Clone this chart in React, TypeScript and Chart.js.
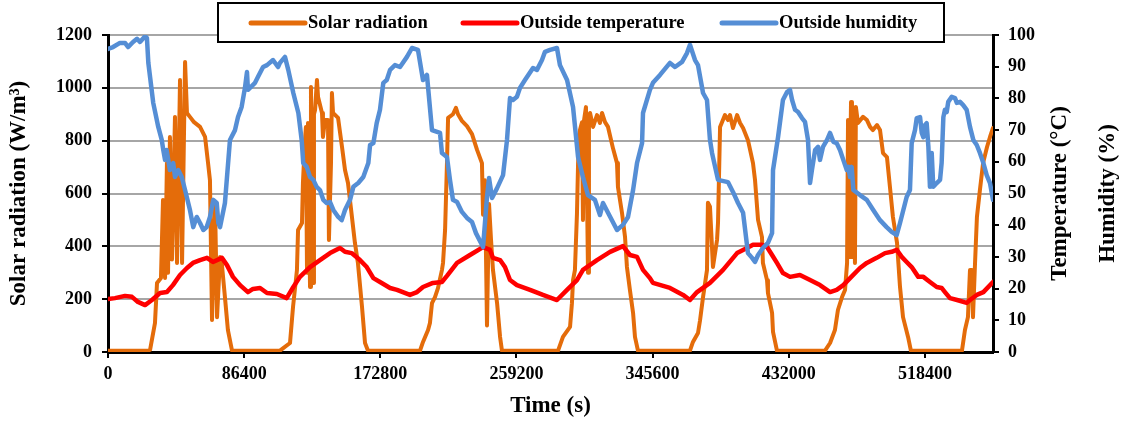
import React, { useEffect, useRef } from 'react';
import { Chart, registerables } from 'chart.js';

Chart.register(...registerables);

const FONT = "'Liberation Serif', 'Times New Roman', Times, serif";

// ---- data: [time (s), value] ----
const solarPoints: [number, number][] = [
  [0, 5], [24700, 5], [26700, 8], [29800, 109], [31100, 261], [33600, 280], [34900, 575], [36200, 280],
  [37400, 715], [38100, 300], [39300, 814], [40600, 350], [42500, 890], [43800, 337], [45700, 1030],
  [47000, 337], [48900, 1098], [50100, 905], [52000, 890], [54600, 870], [58400, 852], [61600, 814],
  [63500, 715], [64700, 650], [66000, 121], [67900, 568], [69200, 132], [71100, 360], [72300, 330],
  [74200, 208], [76100, 83], [78700, 5],
  [109100, 5], [115500, 34], [117400, 170], [119900, 310], [120600, 462], [123100, 488], [123700, 640],
  [125000, 802], [125600, 852], [126300, 300], [126900, 867], [128200, 246], [128800, 1003], [130100, 261],
  [130700, 900], [131400, 916], [132600, 1030], [133300, 965], [135800, 905], [136400, 814], [137700, 878],
  [139600, 878], [140200, 424], [141500, 715], [142100, 980], [142800, 905], [146000, 886], [148500, 776],
  [150400, 689], [152300, 640], [154800, 511], [156700, 413], [158600, 337], [161200, 170], [163100, 34],
  [165000, 5],
  [198000, 5], [199900, 38], [203100, 83], [204300, 110], [205600, 185], [207500, 208], [209400, 242],
  [211900, 310], [212600, 337], [213900, 462], [215100, 715], [215800, 886], [218900, 900], [220800, 924],
  [222100, 900], [224600, 875], [227800, 855], [231000, 825], [234200, 765], [237300, 715], [238000, 520],
  [239200, 650], [240500, 100], [241800, 560], [243000, 430], [244300, 310], [246900, 185], [248800, 57],
  [250000, 5],
  [285600, 5], [288700, 57], [293200, 95], [294400, 185], [295100, 272], [296300, 310], [297600, 525],
  [298300, 715], [299500, 840], [300800, 870], [301400, 500], [302100, 878], [303300, 927], [304600, 300],
  [305200, 880], [305900, 905], [307800, 852], [310300, 897], [312200, 867], [313500, 905], [315400, 870],
  [317300, 852], [320500, 770], [323000, 715], [323600, 625], [326200, 525], [328100, 435], [329300, 322],
  [331200, 235], [333200, 148], [334400, 57], [336300, 5],
  [369300, 5], [371200, 38], [374400, 72], [375700, 120], [377600, 208], [380100, 310], [380700, 565],
  [382000, 550], [383900, 322], [386500, 425], [387100, 490], [388400, 852], [391500, 897], [393400, 878],
  [394700, 897], [396600, 848], [399200, 897], [401100, 867], [403000, 848], [406100, 802], [409300, 715],
  [410600, 650], [412500, 500], [415000, 435], [415600, 337], [418200, 272], [418800, 223], [421400, 148],
  [422000, 76], [424500, 5],
  [455000, 5], [458200, 34], [461300, 83], [463200, 159], [465800, 208], [467700, 235], [469000, 337],
  [469600, 878], [470200, 360], [471500, 946], [472100, 360], [472800, 927], [474000, 337], [474600, 927],
  [475900, 867], [479100, 890], [481600, 878], [483600, 852], [485400, 840], [488000, 859], [489900, 840],
  [491800, 753], [494300, 738], [496200, 625], [498100, 511], [500700, 413], [502600, 246], [504500, 132],
  [507700, 57], [509500, 5],
  [541900, 5], [543800, 83], [545700, 132], [547000, 310], [548300, 310], [548900, 132], [550200, 337],
  [551400, 511], [553300, 613], [555300, 715], [557800, 776], [559700, 814], [561600, 848],
];

const temperaturePoints: [number, number][] = [
  [0, 16.7], [4400, 17.0], [10800, 17.7], [15200, 17.4], [19000, 15.8], [23500, 14.8], [27900, 16.4],
  [33000, 18.6], [37400, 18.9], [41200, 21.1], [45700, 24.3], [50100, 26.5], [53900, 28.1], [58400, 29.0],
  [62800, 29.7], [66600, 28.4], [72300, 29.7], [75500, 27.4], [79300, 23.7], [83800, 21.1], [88800, 18.9],
  [92000, 19.9], [96500, 20.2], [100900, 18.6], [107200, 18.3], [113400, 17.0], [117600, 20.5],
  [121800, 23.7], [128200, 26.8], [134500, 29.0], [140900, 31.2], [147200, 32.8], [150400, 31.6],
  [154600, 31.2], [159900, 29.0], [164200, 26.8], [168400, 23.3], [172600, 22.1], [179000, 20.2],
  [183400, 19.6], [191600, 18.0], [196100, 18.9], [199900, 20.5], [206200, 21.8], [211900, 22.1],
  [215100, 24.0], [221500, 28.1], [229700, 30.6], [238000, 33.1], [242400, 32.2], [244300, 29.7],
  [248800, 29.0], [251900, 26.8], [255100, 22.7], [259500, 21.1], [267800, 19.6], [276000, 18.0],
  [284900, 16.4], [291300, 19.6], [297600, 22.7], [301400, 25.9], [310300, 29.0], [318600, 31.6],
  [326800, 33.4], [331200, 30.6], [335700, 30.0], [339500, 25.9], [343900, 23.3], [345800, 21.8],
  [356600, 20.2], [364900, 18.0], [369300, 16.4], [373800, 18.9], [382000, 21.8], [390300, 25.9],
  [399200, 31.2], [405500, 32.8], [409300, 33.8], [415000, 33.8], [418200, 33.1], [421400, 30.6],
  [424500, 28.1], [428300, 24.9], [432800, 23.7], [439100, 24.3], [445500, 22.7], [451800, 21.1],
  [458200, 18.9], [462400, 19.6], [466600, 21.1], [470900, 23.3], [477200, 26.5], [481500, 28.1],
  [487800, 29.7], [493100, 31.2], [497300, 31.6], [500500, 32.2], [503700, 30.0], [506800, 28.4],
  [510000, 26.8], [514200, 23.7], [517400, 23.7], [521600, 22.1], [525900, 20.5], [529000, 20.2],
  [531100, 18.9], [534300, 17.0], [538800, 16.4], [544900, 15.5], [547000, 16.4], [551300, 18.0],
  [555500, 18.9], [561600, 22.1],
];

const humidityPoints: [number, number][] = [
  [0, 95.6], [3200, 96.2], [7600, 97.5], [10800, 97.5], [12700, 96.2], [15900, 97.8], [18400, 98.8],
  [20300, 97.8], [23500, 99.6], [24700, 99.1], [25600, 91.2], [28700, 78.6], [31900, 71.0], [34100, 66.9],
  [35100, 63.7], [36200, 60.6], [37200, 63.7], [39300, 57.4], [41400, 59.6], [42500, 55.2], [44600, 57.4],
  [46800, 55.2], [48900, 51.1], [52000, 44.8], [54100, 39.4], [56300, 42.6], [58400, 40.7], [60500, 38.5],
  [62600, 39.4], [64700, 42.6], [66800, 48.0], [69000, 47.0], [70000, 40.7], [71100, 39.4], [74200, 47.0],
  [77400, 66.9], [80600, 70.0], [82500, 74.1], [84800, 77.3], [86900, 83.3], [88200, 88.3], [88800, 82.7],
  [93300, 84.9], [95200, 86.8], [98400, 89.9], [100900, 90.5], [104700, 92.1], [107900, 89.9],
  [109100, 91.2], [112300, 93.1], [114400, 89.0], [117600, 81.7], [120800, 75.4], [122900, 66.9],
  [123900, 59.6], [126100, 58.4], [128200, 55.2], [130300, 54.3], [132400, 52.1], [134500, 51.1],
  [136600, 48.0], [138800, 47.0], [140900, 47.3], [143000, 44.8], [146100, 42.6], [148300, 41.6],
  [150400, 44.8], [153600, 48.0], [155700, 52.1], [158800, 53.3], [162000, 55.2], [165200, 59.6],
  [166300, 65.3], [168400, 65.9], [170500, 72.2], [172600, 76.4], [174700, 84.9], [176900, 85.8],
  [179000, 89.0], [182100, 90.5], [185300, 89.9], [189700, 93.1], [192900, 95.9], [196700, 95.3],
  [199900, 85.8], [202400, 87.4], [205600, 70.0], [210700, 69.1], [211900, 62.8], [215100, 61.5],
  [217000, 54.3], [218900, 48.0], [221500, 47.3], [224600, 44.2], [227800, 42.3], [231000, 41.0],
  [233500, 37.5], [238000, 33.1], [240500, 48.9], [241800, 54.9], [243700, 48.6], [246900, 51.7],
  [250700, 55.8], [253200, 66.9], [255100, 80.1], [257000, 79.5], [259500, 80.5], [261400, 83.3],
  [264600, 85.8], [269700, 89.6], [272200, 89.0], [275400, 92.1], [277300, 94.7], [280500, 95.3],
  [284900, 95.9], [286800, 90.5], [291300, 85.8], [295100, 77.3], [298300, 61.5], [301400, 55.2],
  [304600, 49.5], [309000, 48.0], [312200, 43.2], [314100, 47.0], [317300, 43.9], [323000, 38.5],
  [326800, 40.1], [330000, 42.6], [333200, 51.1], [335700, 59.6], [338900, 65.9], [339500, 75.4],
  [343900, 82.7], [345800, 84.9], [350300, 87.4], [356600, 91.2], [359800, 89.9], [364300, 91.5],
  [367400, 94.3], [369300, 96.9], [372500, 92.1], [374400, 90.5], [377600, 81.7], [380100, 79.5],
  [382000, 66.9], [383300, 62.8], [387100, 54.3], [393400, 53.6], [396600, 50.5], [399800, 47.0],
  [403000, 43.9], [406100, 31.2], [408700, 29.7], [410600, 28.4], [412500, 30.6], [415600, 32.8],
  [418800, 34.4], [421400, 37.5], [422000, 57.4], [425200, 67.8], [428300, 79.5], [430900, 82.0],
  [432800, 82.7], [434100, 79.5], [436000, 76.4], [437900, 75.7], [440400, 73.8], [442300, 72.6],
  [444200, 66.9], [445500, 53.3], [446700, 57.4], [448700, 63.7], [450600, 64.7], [451800, 60.6],
  [453700, 64.7], [456300, 66.9], [458200, 69.1], [460300, 66.3], [462400, 65.9], [464500, 63.7],
  [466600, 60.6], [468800, 57.4], [469800, 58.4], [470900, 55.2], [471900, 58.4], [473000, 51.1],
  [477200, 49.5], [481500, 48.0], [485600, 44.8], [489900, 41.6], [494100, 39.4], [497300, 37.9],
  [500500, 36.9], [502600, 40.7], [504700, 44.8], [506800, 48.9], [508900, 51.1], [510000, 65.9],
  [512100, 70.0], [513200, 73.8], [515300, 74.1], [516400, 69.1], [517400, 67.8], [518500, 71.6],
  [519500, 72.2], [520600, 64.7], [521600, 52.1], [522700, 62.8], [523700, 52.1], [525900, 53.3],
  [528000, 54.3], [529000, 59.6], [530100, 74.1], [531100, 76.4], [532200, 75.7], [533200, 78.9],
  [535400, 80.5], [537500, 80.1], [538600, 78.6], [540700, 78.9], [542700, 77.9], [544900, 76.4],
  [547000, 71.0], [549100, 66.9], [551300, 65.3], [553300, 62.8], [555500, 59.6], [557600, 55.8],
  [559700, 53.3], [561600, 48.0],
];

const xTickValues = [0, 86400, 172800, 259200, 345600, 432000, 518400];
const leftTickValues = [0, 200, 400, 600, 800, 1000, 1200];
const rightTickValues = [0, 10, 20, 30, 40, 50, 60, 70, 80, 90, 100];

const seriesLabels = ['Solar radiation', 'Outside temperature', 'Outside humidity'];
const seriesColors = ['#E46C0A', '#FF0000', '#558ED5'];
const rightTitles = ['Temperature (\u00B0C)', 'Humidity (%)'];

const toPoints = (pts: [number, number][]) => pts.map(([x, y]) => ({ x, y }));

const overlayPlugin = {
  id: 'overlay',
  afterDraw(chart: any) {
    const ctx: CanvasRenderingContext2D = chart.ctx;
    const area = chart.chartArea;
    ctx.save();
    // right axis titles (rotated, reading bottom-to-top)
    ctx.fillStyle = '#000';
    ctx.font = `bold 23px ${FONT}`;
    ctx.textAlign = 'center';
    ctx.textBaseline = 'middle';
    const cy = (area.top + area.bottom) / 2;
    const titleX = [area.right + 67, area.right + 115];
    rightTitles.forEach((t, i) => {
      ctx.save();
      ctx.translate(titleX[i], cy);
      ctx.rotate(-Math.PI / 2);
      ctx.fillText(t, 0, 0);
      ctx.restore();
    });

    // legend box
    const boxL = 218, boxT = 3, boxR = 944, boxB = 42;
    ctx.fillStyle = '#fff';
    ctx.fillRect(boxL, boxT, boxR - boxL, boxB - boxT);
    ctx.strokeStyle = '#000';
    ctx.lineWidth = 2;
    ctx.strokeRect(boxL, boxT, boxR - boxL, boxB - boxT);

    ctx.font = `bold 18.5px ${FONT}`;
    ctx.textAlign = 'left';
    ctx.textBaseline = 'middle';
    const ly = 23;
    const itemX = [251, 463, 722];
    chart.data.datasets.forEach((ds: any, i: number) => {
      const x = itemX[i];
      ctx.strokeStyle = ds.borderColor;
      ctx.lineWidth = 5;
      ctx.lineCap = 'round';
      ctx.beginPath();
      ctx.moveTo(x, ly);
      ctx.lineTo(x + 54, ly);
      ctx.stroke();
      ctx.fillStyle = '#000';
      ctx.fillText(ds.label, x + 57, ly);
    });
    ctx.restore();
  },
};

export default function App() {
  const canvasRef = useRef<HTMLCanvasElement | null>(null);

  useEffect(() => {
    if (!canvasRef.current) return;
    const tickFont = { family: FONT, size: 18, weight: 'bold' as const };
    const titleFont = { family: FONT, size: 23, weight: 'bold' as const };
    const chart = new Chart(canvasRef.current, {
      type: 'line',
      data: {
        datasets: [
          {
            label: seriesLabels[0],
            data: toPoints(solarPoints),
            borderColor: seriesColors[0],
            backgroundColor: seriesColors[0],
            borderWidth: 4,
            yAxisID: 'y',
            order: 3,
          },
          {
            label: seriesLabels[1],
            data: toPoints(temperaturePoints),
            borderColor: seriesColors[1],
            backgroundColor: seriesColors[1],
            borderWidth: 4.5,
            yAxisID: 'y1',
            order: 2,
          },
          {
            label: seriesLabels[2],
            data: toPoints(humidityPoints),
            borderColor: seriesColors[2],
            backgroundColor: seriesColors[2],
            borderWidth: 4.5,
            yAxisID: 'y1',
            order: 1,
          },
        ],
      },
      options: {
        animation: false,
        responsive: false,
        layout: { padding: { top: 35, left: 0, right: 0, bottom: 0 } },
        elements: {
          point: { radius: 0, hoverRadius: 0 },
          line: { tension: 0, borderJoinStyle: 'round', borderCapStyle: 'round', fill: false },
        },
        plugins: { legend: { display: false }, tooltip: { enabled: false } },
        scales: {
          x: {
            type: 'linear',
            position: 'bottom',
            min: 0,
            max: 561600,
            afterBuildTicks: (s: any) => {
              s.ticks = xTickValues.map((v) => ({ value: v }));
            },
            afterFit: (s: any) => {
              s.height = 69;
            },
            ticks: {
              font: tickFont,
              color: '#000',
              padding: 6,
              maxRotation: 0,
              autoSkip: false,
              callback: (v: any) => String(v),
            },
            grid: { drawOnChartArea: false, drawTicks: true, tickLength: 6, tickColor: '#000', lineWidth: 2 },
            border: { display: true, color: '#000', width: 3 },
            title: { display: true, text: 'Time (s)', font: titleFont, color: '#000', padding: { top: 0, bottom: 1 } },
          },
          y: {
            type: 'linear',
            position: 'left',
            min: 0,
            max: 1200,
            afterBuildTicks: (s: any) => {
              s.ticks = leftTickValues.map((v) => ({ value: v }));
            },
            afterFit: (s: any) => {
              s.width = 108;
            },
            ticks: { font: tickFont, color: '#000', padding: 10, callback: (v: any) => String(v) },
            grid: { color: '#A6A6A6', lineWidth: 2, tickColor: '#000', tickLength: 6 },
            border: { display: true, color: '#000', width: 3 },
            title: {
              display: true,
              text: 'Solar radiation (W/m\u00B3)',
              font: titleFont,
              color: '#000',
              padding: { top: 5, bottom: 0 },
            },
          },
          y1: {
            type: 'linear',
            position: 'right',
            min: 0,
            max: 100,
            afterBuildTicks: (s: any) => {
              s.ticks = rightTickValues.map((v) => ({ value: v }));
            },
            afterFit: (s: any) => {
              s.width = 129;
            },
            ticks: { font: tickFont, color: '#000', padding: 9, callback: (v: any) => String(v) },
            grid: { drawOnChartArea: false, tickLength: 6, tickColor: '#000', lineWidth: 2 },
            border: { display: true, color: '#000', width: 3 },
          },
        },
      },
      plugins: [overlayPlugin],
    } as any);
    return () => chart.destroy();
  }, []);

  return (
    <div style={{ position: 'absolute', left: 0, top: 0, width: 1122, height: 421, background: '#fff' }}>
      <canvas ref={canvasRef} width={1122} height={421} style={{ display: 'block' }} />
    </div>
  );
}
